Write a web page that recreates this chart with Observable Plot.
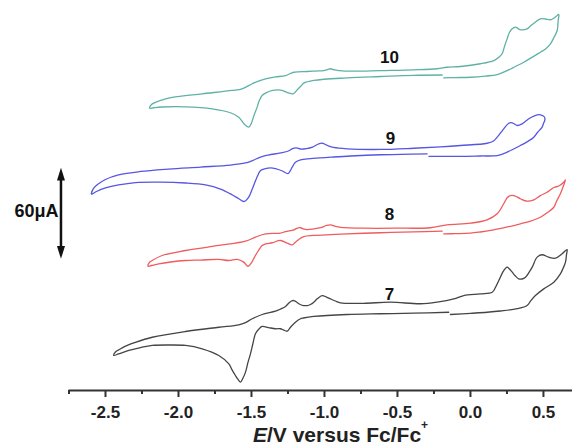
<!DOCTYPE html>
<html>
<head>
<meta charset="utf-8">
<script src="https://cdn.jsdelivr.net/npm/d3@7"></script>
<script src="https://cdn.jsdelivr.net/npm/@observablehq/plot@0.6"></script>
<style>
  html, body { margin: 0; padding: 0; background: #fff; }
  #wrap { position: relative; width: 572px; height: 447px; overflow: hidden; font-family: "Liberation Sans", Arial, sans-serif; }
  #xlabel { position: absolute; left: 253px; top: 424px; font-weight: bold; font-size: 21px; line-height: 21px; white-space: nowrap; color: #222; }
  #xlabel sup { font-size: 12px; vertical-align: baseline; position: relative; top: -1.05em; line-height: 0; }
</style>
</head>
<body>
<div id="wrap">
  <div id="chart"></div>
  <div id="xlabel"><i>E</i>/V versus Fc/Fc<sup>+</sup></div>
</div>
<script>
// Potential (V vs Fc/Fc+) and current (μA, including the vertical offset of each trace)
const E10 = [-0.194,-0.388,-0.616,-0.845,-1.073,-1.142,-1.164,-1.187,-1.214,-1.247,-1.281,-1.315,-1.356,-1.397,-1.427,-1.449,-1.461,-1.483,-1.500,-1.518,-1.546,-1.587,-1.644,-1.769,-1.952,-2.112,-2.171,-2.197,
  -2.185,-2.158,-2.103,-2.043,-1.838,-1.632,-1.564,-1.495,-1.452,-1.404,-1.336,-1.267,-1.210,-1.118,-1.062,-1.005,-0.979,-0.959,-0.932,-0.902,-0.799,-0.616,-0.388,-0.228,-0.160,-0.068,0.068,0.160,0.192,0.217,0.233,0.251,0.267,0.286,0.308,0.342,0.388,0.411,0.434,0.479,0.514,0.548,0.582,0.605,
  0.601,0.594,0.572,0.548,0.514,0.479,0.425,0.365,0.308,0.251,0.183,0.103,0.000,-0.103,-0.183];
const I10 = [208.0,207.8,207.0,206.1,204.4,202.6,200.4,198.2,195.6,196.2,197.6,198.2,197.8,196.4,194.5,190.5,186.8,181.3,176.3,173.6,175.3,180.2,183.1,185.7,187.0,186.9,186.4,186.1,
  188.5,190.0,191.8,193.3,195.6,197.8,198.9,202.2,204.0,205.5,206.7,207.6,209.8,210.3,210.6,210.9,211.6,212.1,211.3,210.9,210.5,210.9,211.4,212.1,213.1,213.6,215.4,217.5,219.5,222.0,226.8,231.8,236.0,238.4,239.5,237.8,238.4,240.3,242.1,245.0,244.9,244.4,246.2,247.9,
  243.9,237.3,232.7,228.5,225.1,223.0,219.8,216.4,213.6,210.9,208.3,207.3,206.5,206.3,206.1];

const E9 = [-0.297,-0.479,-0.616,-0.822,-0.959,-1.096,-1.164,-1.199,-1.221,-1.250,-1.288,-1.336,-1.370,-1.404,-1.438,-1.466,-1.493,-1.521,-1.551,-1.589,-1.630,-1.712,-1.815,-1.952,-2.123,-2.295,-2.411,-2.500,-2.562,-2.596,
  -2.582,-2.555,-2.500,-2.411,-2.260,-2.068,-1.849,-1.644,-1.541,-1.493,-1.438,-1.384,-1.301,-1.247,-1.219,-1.192,-1.164,-1.123,-1.082,-1.041,-1.014,-0.979,-0.938,-0.845,-0.616,-0.390,-0.205,-0.068,0.114,0.158,0.183,0.205,0.228,0.262,0.286,0.320,0.354,0.384,0.411,0.457,0.486,0.507,0.510,
  0.500,0.491,0.459,0.434,0.390,0.342,0.295,0.251,0.183,0.068,-0.068,-0.205,-0.284];
const I9 = [156.0,155.6,155.4,154.6,153.8,152.9,152.1,150.5,147.2,143.0,144.7,146.3,146.7,146.3,145.0,139.8,133.2,127.2,124.6,126.6,128.9,132.8,135.5,136.8,137.4,137.1,135.5,133.5,131.2,129.5,
  133.2,135.8,139.1,142.1,144.4,146.0,147.3,148.6,150.0,151.6,153.9,155.2,156.6,157.9,159.5,159.9,159.2,159.5,160.5,162.5,163.0,161.5,160.2,159.3,158.9,159.7,160.6,161.5,163.0,164.5,167.0,169.7,172.5,176.2,176.5,174.7,175.8,178.0,179.8,181.7,181.6,180.3,178.6,
  176.0,173.6,170.1,167.0,164.1,161.5,159.2,157.1,154.9,154.6,154.3,154.3,154.3];

const E8 = [-0.194,-0.388,-0.616,-0.845,-1.073,-1.142,-1.164,-1.199,-1.221,-1.255,-1.301,-1.358,-1.404,-1.427,-1.452,-1.473,-1.497,-1.523,-1.553,-1.598,-1.655,-1.724,-1.849,-1.952,-2.055,-2.135,-2.185,-2.208,
  -2.199,-2.180,-2.112,-1.952,-1.724,-1.541,-1.473,-1.404,-1.301,-1.267,-1.210,-1.185,-1.164,-1.144,-1.118,-1.075,-1.027,-0.986,-0.959,-0.925,-0.890,-0.731,-0.502,-0.274,-0.160,0.000,0.114,0.183,0.228,0.253,0.274,0.297,0.318,0.342,0.388,0.434,0.479,0.525,0.571,0.605,0.637,0.651,
  0.630,0.616,0.589,0.571,0.527,0.479,0.411,0.342,0.253,0.160,0.068,0.000,-0.103,-0.183];
const I8 = [105.0,104.6,104.0,103.3,102.2,101.5,100.4,97.8,96.0,97.1,98.9,97.4,96.6,95.6,92.3,89.0,84.7,81.9,84.6,86.4,85.7,86.4,86.0,85.7,84.7,83.5,82.4,81.9,
  84.4,85.7,89.0,92.3,95.6,98.4,101.1,103.3,103.7,104.8,105.9,107.1,107.3,106.5,106.1,106.5,107.3,108.8,109.2,108.2,107.6,107.0,107.0,107.3,109.2,110.3,112.5,116.5,123.1,127.2,128.5,128.5,127.6,126.4,124.8,125.7,128.5,130.7,133.8,134.8,137.1,138.8,
  133.2,129.7,124.6,120.8,117.3,114.2,111.7,109.9,107.8,105.9,104.5,103.7,103.4,103.3];

const E7 = [-0.149,-0.388,-0.616,-0.845,-1.073,-1.144,-1.164,-1.199,-1.233,-1.255,-1.281,-1.301,-1.336,-1.384,-1.427,-1.452,-1.473,-1.490,-1.507,-1.524,-1.541,-1.558,-1.575,-1.592,-1.610,-1.634,-1.655,-1.724,-1.838,-1.952,-2.068,-2.180,-2.260,-2.340,-2.411,-2.443,
  -2.432,-2.409,-2.363,-2.295,-2.180,-1.952,-1.724,-1.587,-1.541,-1.495,-1.427,-1.336,-1.301,-1.267,-1.247,-1.226,-1.210,-1.192,-1.176,-1.144,-1.118,-1.096,-1.073,-1.048,-1.016,-0.986,-0.959,-0.925,-0.890,-0.731,-0.548,-0.342,-0.228,-0.114,-0.046,0.068,0.149,0.171,0.194,0.228,0.251,0.267,0.286,0.308,0.331,0.353,0.377,0.401,0.423,0.457,0.491,0.536,0.582,0.628,0.662,
  0.658,0.651,0.634,0.616,0.571,0.502,0.445,0.414,0.388,0.320,0.205,0.114,0.000,-0.137];
const I7 = [51.6,51.0,50.6,50.1,48.8,47.8,47.3,45.0,41.7,39.1,39.9,40.7,40.7,41.5,42.2,40.2,37.4,31.0,24.2,18.5,12.1,8.2,5.5,7.3,9.9,13.8,17.6,23.1,27.5,29.7,30.0,29.7,28.3,26.4,24.1,23.1,
  25.4,26.8,29.3,31.8,35.1,38.9,41.7,43.3,44.8,47.3,50.1,52.3,53.7,55.4,57.4,59.0,59.3,58.3,57.2,56.0,56.0,56.7,58.2,60.6,62.6,61.6,60.4,59.0,57.8,57.5,58.2,57.2,58.3,60.4,62.6,63.7,64.8,67.9,72.5,79.1,81.3,80.1,78.0,75.5,73.6,73.5,74.7,77.8,81.3,87.9,89.5,87.9,87.2,90.1,92.9,
  89.7,84.6,80.4,76.9,71.4,67.0,62.6,59.3,56.0,53.9,52.4,51.6,50.9,50.1];

const curveNames = ["7", "8", "9", "10"];
const curveColors = ["#454545", "#ee5c5c", "#5656e2", "#5fb1a6"];
const labelE = [-0.555, -0.555, -0.548, -0.555];
const labelI = [63.3, 115.7, 166.1, 219.2];

const majorTicks = [-2.5, -2.0, -1.5, -1.0, -0.5, 0.0, 0.5];
const minorTicks = [-2.75, -2.25, -1.75, -1.25, -0.75, -0.25, 0.25];

const scaleBarE = -2.805;
const scaleBarI = [86.8, 146.8];   // 60 μA
const scaleBarText = "60μA";

// build table
const curves = [[E7, I7], [E8, I8], [E9, I9], [E10, I10]];
const rows = [];
curves.forEach(([E, I], k) => {
  const n = Math.min(E.length, I.length);
  for (let j = 0; j < n; j++) rows.push({name: curveNames[k], e: E[j], i: I[j]});
});
const labels = curveNames.map((name, k) => ({name, e: labelE[k], i: labelI[k]}));

const headUp = {draw(ctx, size) { const r = Math.sqrt(size / Math.PI); ctx.moveTo(0, 0); ctx.lineTo(r, 3.2 * r); ctx.lineTo(-r, 3.2 * r); ctx.closePath(); }};
const headDown = {draw(ctx, size) { const r = Math.sqrt(size / Math.PI); ctx.moveTo(0, 0); ctx.lineTo(r, -3.2 * r); ctx.lineTo(-r, -3.2 * r); ctx.closePath(); }};

const chart = Plot.plot({
  width: 572,
  height: 420,
  marginTop: 0,
  marginBottom: 30,
  marginLeft: 68.5,
  marginRight: 0,
  style: {fontFamily: "'Liberation Sans', Arial, sans-serif", fontSize: "17px", fontWeight: "bold", color: "#222", background: "#fff", overflow: "visible"},
  x: {domain: [-2.75, 0.699]},
  y: {domain: [0, 257.1], axis: null},
  color: {domain: curveNames, range: curveColors},
  marks: [
    Plot.line(rows, {x: "e", y: "i", z: "name", stroke: "name", strokeWidth: 1.3, curve: "catmull-rom"}),
    Plot.text(labels, {x: "e", y: "i", text: "name", fontSize: 17, fontWeight: "bold", fill: "#111"}),
    Plot.ruleY([0], {stroke: "#333", strokeWidth: 2}),
    Plot.axisX({ticks: majorTicks, tickSize: 7, tickPadding: 8, strokeWidth: 2, stroke: "#333", tickFormat: d => d.toFixed(1), label: null, fontSize: 17, fontWeight: "bold"}),
    Plot.axisX({ticks: minorTicks, tickSize: 4, strokeWidth: 2, stroke: "#333", tickFormat: () => "", label: null}),
    Plot.ruleX([scaleBarE], {y1: scaleBarI[0] + 4, y2: scaleBarI[1] - 4, stroke: "#111", strokeWidth: 2.5}),
    Plot.dot([scaleBarI[1]], {x: () => scaleBarE, y: d => d, r: 4, symbol: headUp, fill: "#111", stroke: null}),
    Plot.dot([scaleBarI[0]], {x: () => scaleBarE, y: d => d, r: 4, symbol: headDown, fill: "#111", stroke: null}),
    Plot.text([scaleBarText], {x: () => scaleBarE - 0.017, y: () => (scaleBarI[0] + scaleBarI[1]) / 2, text: d => d, textAnchor: "end", dy: -2, fontSize: 18, fontWeight: "bold", fill: "#111"})
  ]
});
document.getElementById("chart").appendChild(chart);
</script>
</body>
</html>
